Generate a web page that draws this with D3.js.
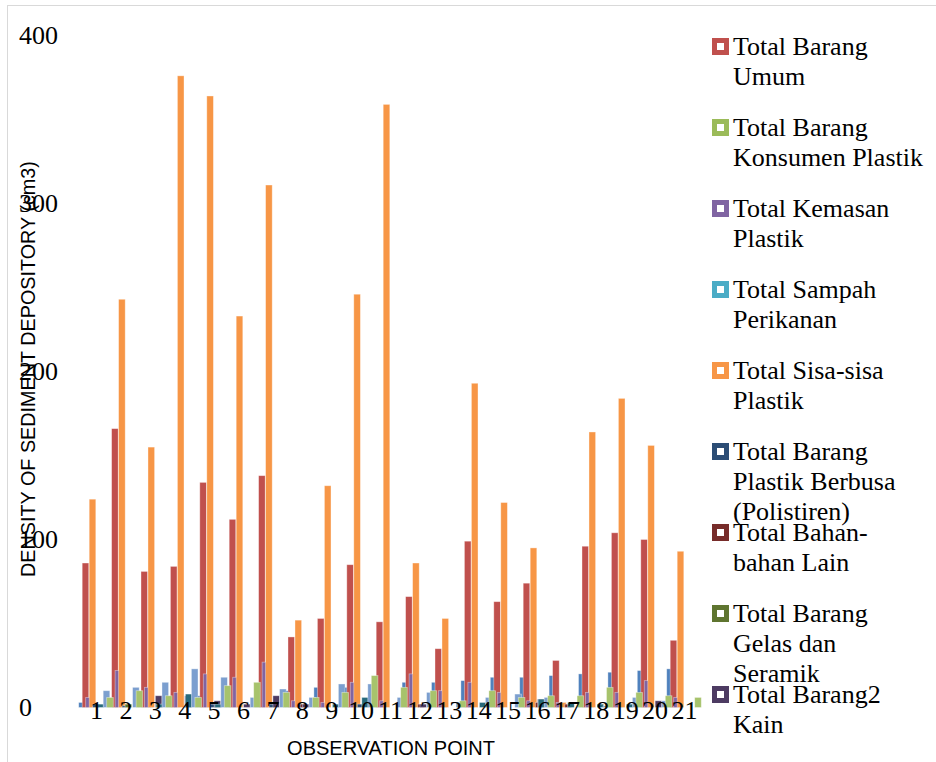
<!DOCTYPE html>
<html lang="id">
<head>
  <meta charset="UTF-8">
  <title>Density of Sediment Depository</title>
  <script src="https://d3js.org/d3.v7.min.js"></script>
  <style>
    body { margin: 0; background: #fff; }
    svg { display: block; }
    .serif { font-family: "Liberation Serif", "Times New Roman", serif; }
    .sans { font-family: "Liberation Sans", Arial, sans-serif; }
  </style>
</head>
<body>
<svg id="chart" width="936" height="762"></svg>
<script>
  // observation points and y ticks
  const points = ["1","2","3","4","5","6","7","8","9","10","11","12","13","14","15","16","17","18","19","20","21"];
  const yTicks = [0, 100, 200, 300, 400];

  // values (cm3)
  const barangUmum      = [86, 166, 81, 84, 134, 112, 138, 42, 53, 85, 51, 66, 35, 99, 63, 74, 28, 96, 104, 100, 40];
  const sisaPlastik     = [124, 243, 155, 376, 364, 233, 311, 52, 132, 246, 359, 86, 53, 193, 122, 95, 3, 164, 184, 156, 93];
  const kemasanPlastik  = [6, 22, 12, 9, 20, 18, 27, 4, 3, 15, 4, 20, 10, 15, 9, 4, 3, 9, 9, 16, 6];
  const konsumenPlastik = [6, 10, 7, 6, 13, 15, 9, 6, 9, 19, 12, 10, 4, 10, 6, 7, 7, 12, 9, 7, 6];
  const sampahPerikanan = [0, 0, 3, 0, 0, 0, 0, 1, 2, 0, 0, 0, 2, 0, 0, 0, 0, 1, 1, 0, 0];
  const polistiren      = [2, 1, 0, 0, 2, 0, 2, 2, 0, 2, 0, 0, 0, 0, 0, 0, 0, 0, 0, 0, 0];
  const bahanLain       = [0, 0, 0, 0, 0, 0, 0, 2, 0, 0, 0, 2, 0, 0, 0, 3, 2, 0, 0, 0, 0];
  const gelasSeramik    = [0, 2, 0, 0, 0, 0, 0, 0, 0, 0, 0, 0, 0, 0, 0, 0, 0, 0, 0, 0, 0];
  const barangKain      = [0, 0, 7, 7, 4, 2, 7, 2, 0, 0, 0, 2, 0, 0, 0, 5, 0, 0, 0, 4, 0];
  // series whose legend entries fall outside the picture
  const seriesBlue      = [3, 4, 5, 6, 7, 8, 9, 10, 12, 12, 13, 15, 15, 16, 18, 18, 19, 20, 21, 22, 23];
  const seriesTeal      = [2, 0, 2, 8, 2, 0, 0, 0, 2, 6, 0, 0, 0, 3, 0, 5, 3, 2, 2, 0, 0];
  const seriesLightBlue = [10, 12, 15, 23, 18, 6, 11, 6, 14, 14, 6, 9, 3, 6, 8, 6, 0, 1, 6, 4, 0];

  // drawing order; slot = place inside the group
  const series = [
    { values: seriesBlue,      color: "#4F81BD", slot: 0 },
    { values: barangUmum,      color: "#C0504D", slot: 1 },
    { values: sampahPerikanan, color: "#4BACC6", slot: 2.6 },
    { values: kemasanPlastik,  color: "#8064A2", slot: 2 },
    { values: sisaPlastik,     color: "#F79646", slot: 3 },
    { values: polistiren,      color: "#2C4D75", slot: 4 },
    { values: bahanLain,       color: "#772C2A", slot: 4.5 },
    { values: gelasSeramik,    color: "#5F7530", slot: 4.85 },
    { values: barangKain,      color: "#4D3B62", slot: 5.1 },
    { values: seriesTeal,      color: "#276A7C", slot: 5.3 },
    { values: seriesLightBlue, color: "#7C9FCF", slot: 7 },
    { values: konsumenPlastik, color: "#A7C36C", slot: 8 }
  ];

  const legend = [
    { lines: ["Total Barang", "Umum"],                         color: "#C0504D" },
    { lines: ["Total Barang", "Konsumen Plastik"],             color: "#9BBB59" },
    { lines: ["Total Kemasan", "Plastik"],                     color: "#8064A2" },
    { lines: ["Total Sampah", "Perikanan"],                    color: "#4BACC6" },
    { lines: ["Total Sisa-sisa", "Plastik"],                   color: "#F79646" },
    { lines: ["Total Barang", "Plastik Berbusa", "(Polistiren)"], color: "#2C4D75" },
    { lines: ["Total Bahan-", "bahan Lain"],                   color: "#772C2A" },
    { lines: ["Total Barang", "Gelas dan", "Seramik"],         color: "#5F7530" },
    { lines: ["Total Barang2", "Kain"],                        color: "#4D3B62" }
  ];

  const svg = d3.select("#chart");

  // outer frame
  svg.append("rect")
    .attr("x", 7.5).attr("y", 5.5)
    .attr("width", 1000).attr("height", 1000)
    .attr("fill", "none").attr("stroke", "#d9d9d9");

  const x = d3.scalePoint().domain(points).range([96, 684]);
  const y = d3.scaleLinear().domain([0, 400]).range([707.5, 35.5]);
  const step = x.step();
  const sub = d3.scaleLinear().domain([0, 8]).range([-0.476 * step, 0.476 * step]);
  const barW = step * 0.225;

  // y axis (labels only, left aligned)
  const yAxis = svg.append("g")
    .attr("class", "serif")
    .call(d3.axisLeft(y).tickValues(yTicks).tickSize(0));
  yAxis.select(".domain").remove();
  yAxis.selectAll("text")
    .attr("x", 19)
    .attr("text-anchor", "start")
    .attr("fill", "#000")
    .style("font-size", "26px")
    .style("font-family", "'Liberation Serif', 'Times New Roman', serif");

  // bars
  series.forEach(s => {
    svg.append("g")
      .selectAll("rect")
      .data(s.values.map((v, i) => ({ p: points[i], v })).filter(d => d.v > 0))
      .join("rect")
      .attr("x", d => x(d.p) + sub(s.slot) - barW / 2)
      .attr("y", d => y(d.v))
      .attr("width", barW)
      .attr("height", d => y(0) - y(d.v))
      .attr("fill", s.color)
      .attr("stroke", "rgba(255,255,255,0.45)")
      .attr("stroke-width", 0.8);
  });

  // x axis (labels only)
  const xAxis = svg.append("g")
    .attr("transform", `translate(0,${y(0)})`)
    .call(d3.axisBottom(x).tickSize(0));
  xAxis.select(".domain").remove();
  xAxis.selectAll("text")
    .attr("y", 11.5)
    .attr("dy", 0)
    .attr("fill", "#000")
    .style("font-size", "26px")
    .style("font-family", "'Liberation Serif', 'Times New Roman', serif");

  // axis titles
  svg.append("text")
    .attr("class", "sans")
    .attr("transform", "translate(35,369) rotate(-90)")
    .attr("text-anchor", "middle")
    .style("font-size", "19.8px")
    .attr("fill", "#000")
    .text("DENSITY OF SEDIMENT DEPOSITORY (cm3)");

  svg.append("text")
    .attr("class", "sans")
    .attr("x", 391).attr("y", 755)
    .attr("text-anchor", "middle")
    .style("font-size", "20px")
    .attr("fill", "#000")
    .text("OBSERVATION POINT");

  // legend
  const lg = svg.append("g").attr("class", "serif");
  legend.forEach((item, i) => {
    const base = 55 + i * 81;
    lg.append("rect")
      .attr("x", 714.5).attr("y", base - 14.5)
      .attr("width", 12).attr("height", 12)
      .attr("fill", "#fff")
      .attr("stroke", item.color)
      .attr("stroke-width", 5);
    const t = lg.append("text")
      .attr("x", 733).attr("y", base)
      .style("font-size", "26px")
      .attr("fill", "#000");
    item.lines.forEach((line, j) => {
      t.append("tspan")
        .attr("x", 733)
        .attr("y", base + j * 30)
        .text(line);
    });
  });
</script>
</body>
</html>
